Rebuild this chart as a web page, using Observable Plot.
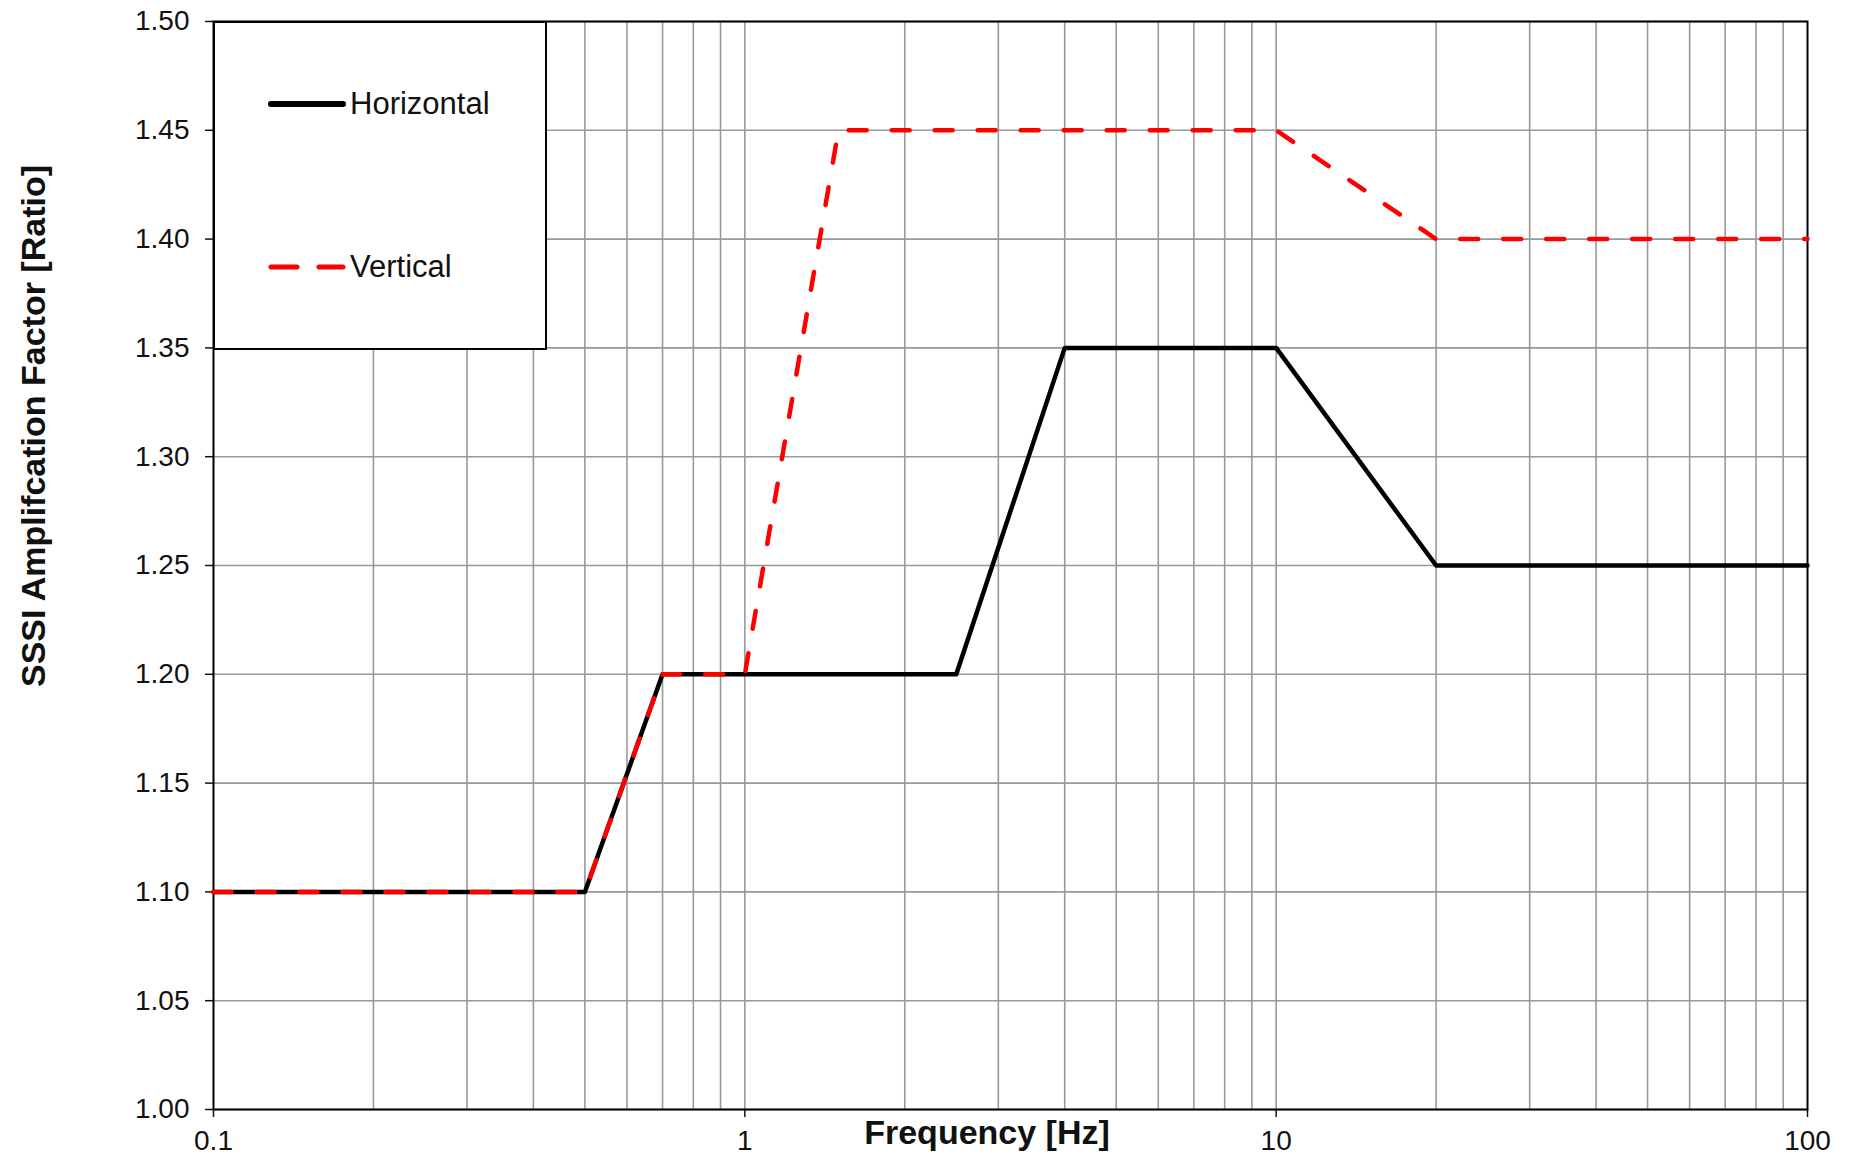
<!DOCTYPE html>
<html>
<head>
<meta charset="utf-8">
<script src="https://cdn.jsdelivr.net/npm/d3@7"></script>
<script src="https://cdn.jsdelivr.net/npm/@observablehq/plot@0.6"></script>
<style>
  html, body { margin: 0; padding: 0; background: #fff; }
  #wrap { position: relative; width: 1854px; height: 1157px; font-family: "Liberation Sans", Arial, sans-serif; }
  .axis-title { position: absolute; font-weight: bold; font-size: 34px; color: #111; white-space: nowrap; }
  #legend { position: absolute; left: 213px; top: 21px; width: 334px; height: 329px; box-sizing: border-box;
            border: 2px solid #000; background: #fff; }
  .leg-item { position: absolute; left: 52px; display: flex; align-items: center; font-size: 31px; color: #111; }
  .leg-item svg { display: block; margin-right: 3px; }
</style>
</head>
<body>
<div id="wrap"></div>
<script>
// ---- data ----
const horizontalFreq = [0.1, 0.5, 0.7, 2.5, 4, 10, 20, 100];
const horizontalRatio = [1.10, 1.10, 1.20, 1.20, 1.35, 1.35, 1.25, 1.25];
const verticalFreq = [0.1, 0.5, 0.7, 1, 1.5, 10, 20, 100];
const verticalRatio = [1.10, 1.10, 1.20, 1.20, 1.45, 1.45, 1.40, 1.40];
const xTicks = [0.1, 1, 10, 100];
const xTickLabels = ["0.1", "1", "10", "100"];
const xGridValues = [0.2, 0.3, 0.4, 0.5, 0.6, 0.7, 0.8, 0.9, 1, 2, 3, 4, 5, 6, 7, 8, 9, 10, 20, 30, 40, 50, 60, 70, 80, 90];
const yTicks = [1.00, 1.05, 1.10, 1.15, 1.20, 1.25, 1.30, 1.35, 1.40, 1.45, 1.50];
const seriesNames = ["Horizontal", "Vertical"];
const xTitle = "Frequency [Hz]";
const yTitle = "SSSI Amplifcation Factor [Ratio]";

const horizontal = horizontalFreq.map((f, i) => ({f, r: horizontalRatio[i]}));
const vertical = verticalFreq.map((f, i) => ({f, r: verticalRatio[i]}));

const chart = Plot.plot({
  width: 1854,
  height: 1157,
  marginLeft: 213,
  marginRight: 47,
  marginTop: 21,
  marginBottom: 48,
  style: {fontFamily: "Liberation Sans, Arial, sans-serif", fontSize: "28px", color: "#111", background: "#fff"},
  x: {type: "log", domain: [0.1, 100]},
  y: {domain: [1.0, 1.5]},
  marks: [
    Plot.ruleX(xGridValues, {stroke: "#999", strokeWidth: 1.6}),
    Plot.ruleY(yTicks, {stroke: "#999", strokeWidth: 1.6}),
    Plot.axisX({ticks: xTicks, tickFormat: d => xTickLabels[xTicks.indexOf(d)], tickSize: 8, tickPadding: 13, label: null, fontSize: 28, strokeWidth: 1.5}),
    Plot.axisY({ticks: yTicks, tickFormat: d3.format(".2f"), tickSize: 8, tickPadding: 16, label: null, fontSize: 28, strokeWidth: 1.5}),
    Plot.frame({stroke: "#000", strokeWidth: 2}),
    Plot.line(horizontal, {x: "f", y: "r", stroke: "#000", strokeWidth: 4.5, strokeLinejoin: "round"}),
    Plot.line(vertical, {x: "f", y: "r", stroke: "#ff0000", strokeWidth: 4.5, strokeDasharray: "18,25", strokeLinecap: "round", strokeLinejoin: "round"})
  ]
});

const wrap = document.getElementById("wrap");
wrap.appendChild(chart);
chart.style.position = "absolute";
chart.style.left = "0px";
chart.style.top = "0px";

// legend
const legend = document.createElement("div");
legend.id = "legend";
legend.innerHTML = `
  <div class="leg-item" style="top:63px">
    <svg width="80" height="12"><line x1="4" y1="6" x2="76" y2="6" stroke="#000" stroke-width="6" stroke-linecap="round"/></svg>
    <span>${seriesNames[0]}</span>
  </div>
  <div class="leg-item" style="top:226px">
    <svg width="80" height="12"><line x1="4" y1="6" x2="76" y2="6" stroke="#ff0000" stroke-width="5" stroke-dasharray="26,22" stroke-linecap="round"/></svg>
    <span>${seriesNames[1]}</span>
  </div>`;
wrap.appendChild(legend);

// axis titles
const xt = document.createElement("div");
xt.className = "axis-title";
xt.textContent = xTitle;
xt.style.left = "987px";
xt.style.top = "1113px";
xt.style.transform = "translateX(-50%)";
wrap.appendChild(xt);

const yt = document.createElement("div");
yt.className = "axis-title";
yt.textContent = yTitle;
yt.style.left = "33px";
yt.style.top = "426px";
yt.style.transform = "translate(-50%, -50%) rotate(-90deg)";
wrap.appendChild(yt);
</script>
</body>
</html>
